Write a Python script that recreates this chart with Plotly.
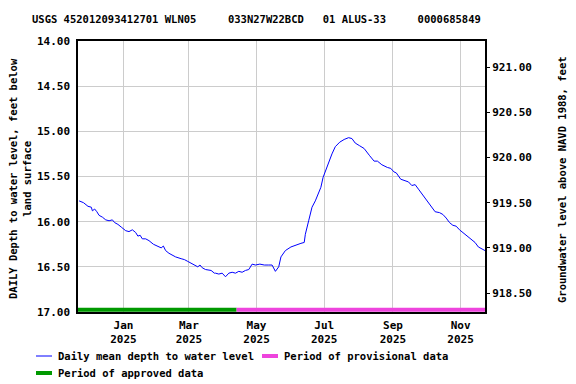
import plotly.graph_objects as go

# ---- data ----
dates = [
    "2024-11-22", "2024-11-26", "2024-11-30", "2024-12-03", "2024-12-04", "2024-12-06",
    "2024-12-08", "2024-12-10", "2024-12-13", "2024-12-16", "2024-12-19", "2024-12-22",
    "2024-12-24", "2024-12-27", "2024-12-30", "2025-01-03", "2025-01-06", "2025-01-09",
    "2025-01-12", "2025-01-14", "2025-01-16", "2025-01-18", "2025-01-21", "2025-01-24",
    "2025-01-28", "2025-02-01", "2025-02-04", "2025-02-06", "2025-02-08", "2025-02-11",
    "2025-02-14", "2025-02-17", "2025-02-22", "2025-02-25", "2025-02-28", "2025-03-03",
    "2025-03-06", "2025-03-09", "2025-03-11", "2025-03-13", "2025-03-16", "2025-03-21",
    "2025-03-24", "2025-03-25", "2025-03-28", "2025-03-31", "2025-04-03", "2025-04-06",
    "2025-04-09", "2025-04-12", "2025-04-15", "2025-04-18", "2025-04-21", "2025-04-24",
    "2025-04-27", "2025-04-30", "2025-05-04", "2025-05-08", "2025-05-12", "2025-05-15",
    "2025-05-18", "2025-05-21", "2025-05-23", "2025-05-27", "2025-06-01", "2025-06-05",
    "2025-06-10", "2025-06-13", "2025-06-14", "2025-06-17", "2025-06-20", "2025-06-23",
    "2025-06-26", "2025-06-28", "2025-06-30", "2025-07-03", "2025-07-05", "2025-07-08",
    "2025-07-11", "2025-07-15", "2025-07-19", "2025-07-23", "2025-07-26", "2025-07-29",
    "2025-08-02", "2025-08-06", "2025-08-11", "2025-08-15", "2025-08-18", "2025-08-22",
    "2025-08-27", "2025-08-30", "2025-09-02", "2025-09-04", "2025-09-08", "2025-09-12",
    "2025-09-15", "2025-09-18", "2025-09-21", "2025-09-24", "2025-09-27", "2025-09-30",
    "2025-10-03", "2025-10-06", "2025-10-09", "2025-10-13", "2025-10-16", "2025-10-19",
    "2025-10-22", "2025-10-25", "2025-10-28", "2025-10-31", "2025-11-03", "2025-11-05",
    "2025-11-08", "2025-11-11", "2025-11-14", "2025-11-17", "2025-11-20", "2025-11-23",
]
depth = [
    15.77, 15.79, 15.83, 15.84, 15.88, 15.86,
    15.89, 15.93, 15.95, 15.98, 15.99, 15.98,
    16.01, 16.03, 16.06, 16.10, 16.11, 16.09,
    16.12, 16.16, 16.15, 16.19, 16.19, 16.21,
    16.25, 16.27, 16.29, 16.27, 16.32, 16.35,
    16.37, 16.39, 16.41, 16.42, 16.44, 16.46,
    16.48, 16.50, 16.48, 16.51, 16.53, 16.54,
    16.57, 16.57, 16.58, 16.57, 16.61, 16.57,
    16.56, 16.57, 16.55, 16.56, 16.54, 16.53,
    16.47, 16.48, 16.47, 16.48, 16.48, 16.48,
    16.55, 16.50, 16.39, 16.32, 16.28, 16.26,
    16.24, 16.23, 16.14, 15.99, 15.84, 15.77,
    15.69, 15.62, 15.51, 15.41, 15.36, 15.25,
    15.17, 15.12, 15.09, 15.07, 15.08, 15.13,
    15.16, 15.19, 15.27, 15.33, 15.33, 15.37,
    15.40, 15.41, 15.45, 15.46, 15.53, 15.55,
    15.56, 15.60, 15.59, 15.64, 15.69, 15.74,
    15.79, 15.84, 15.89, 15.90, 15.92, 15.96,
    16.01, 16.04, 16.05, 16.09, 16.12, 16.14,
    16.16, 16.19, 16.23, 16.28, 16.30, 16.32,
]
land_surface = 935.29
approved_period = ["2024-11-21", "2025-04-13"]
provisional_period = ["2025-04-13", "2025-11-23"]
period_bar_depth = 16.974
x_range = ["2024-11-21", "2025-11-23"]
tick_dates = ["2025-01-01", "2025-03-01", "2025-05-01", "2025-07-01", "2025-09-01", "2025-11-01"]
tick_labels = ["Jan<br>2025", "Mar<br>2025", "May<br>2025", "Jul<br>2025", "Sep<br>2025", "Nov<br>2025"]
depth_ticks = [14.0, 14.5, 15.0, 15.5, 16.0, 16.5, 17.0]
elev_ticks = [918.5, 919.0, 919.5, 920.0, 920.5, 921.0]

FONT = "DejaVu Sans Mono"
FS = 10.5
NB = "\u00a0"

# page offset of the figure inside the browser window (default body margin)
OFF = 8
# plot area in window pixels
L, R, T, B = 78, 485, 41, 312
W, H = R - L, B - T


def px(x):
    return (x - L) / W


def py(y):
    return (B - y) / H


fig = go.Figure()
fig.add_trace(go.Scatter(x=dates, y=depth, mode="lines",
                         line=dict(color="#0000ff", width=1), showlegend=False))
fig.add_trace(go.Scatter(x=approved_period, y=[period_bar_depth] * 2, mode="lines",
                         line=dict(color="#009900", width=4), showlegend=False))
fig.add_trace(go.Scatter(x=provisional_period, y=[period_bar_depth] * 2, mode="lines",
                         line=dict(color="#ee44dd", width=4), showlegend=False))
fig.add_trace(go.Scatter(x=dates, y=[land_surface - d for d in depth], mode="lines",
                         line=dict(color="rgba(0,0,0,0)", width=0), yaxis="y2",
                         showlegend=False, hoverinfo="skip"))

fig.update_layout(
    width=576, height=384,
    margin=dict(l=L - OFF, r=576 - R + OFF, t=T - OFF, b=384 - B + OFF, pad=0),
    paper_bgcolor="white", plot_bgcolor="white",
    font=dict(family=FONT, size=FS, color="black", weight="bold"),
    showlegend=False,
    xaxis=dict(range=x_range, type="date", tickvals=tick_dates, ticktext=tick_labels,
               showgrid=True, gridcolor="#cccccc", gridwidth=1, automargin=False,
               showline=True, linecolor="black", linewidth=1.5, mirror=True,
               ticks="", ticklabelstandoff=2,
               tickfont=dict(family=FONT, size=FS + 0.5), zeroline=False),
    yaxis=dict(range=[17.0, 14.0], tickvals=depth_ticks,
               ticktext=[f"{v:.2f}" for v in depth_ticks],
               showgrid=True, gridcolor="#cccccc", gridwidth=1, automargin=False,
               showline=True, linecolor="black", linewidth=1.5, mirror=True,
               ticks="outside", ticklen=4, tickcolor="rgba(0,0,0,0)",
               tickfont=dict(family=FONT, size=FS + 0.5), zeroline=False),
    yaxis2=dict(range=[land_surface - 17.0, land_surface - 14.0], overlaying="y", side="right",
                tickvals=elev_ticks, ticktext=[f"{v:.2f}" for v in elev_ticks],
                showgrid=False, showline=False, zeroline=False, automargin=False,
                ticks="outside", ticklen=4, tickcolor="black",
                tickfont=dict(family=FONT, size=FS + 0.5)),
)

title = ("USGS 452012093412701 WLN05" + NB * 5 + "033N27W22BCD" + NB * 3 +
         "01 ALUS-33" + NB * 5 + "0000685849")
fig.add_annotation(x=px(256), y=py(19), xref="paper", yref="paper", text=title,
                   showarrow=False, xanchor="center", yanchor="middle",
                   font=dict(family=FONT, size=FS))

# axis titles (window pixel positions)
fig.add_annotation(x=px(20), y=py(179), xref="paper", yref="paper",
                   text="DAILY Depth to water level, feet below<br>land surface",
                   textangle=-90, showarrow=False, xanchor="center", yanchor="middle",
                   font=dict(family=FONT, size=FS))
fig.add_annotation(x=px(562), y=py(180), xref="paper", yref="paper",
                   text="Groundwater level above NAVD 1988, feet",
                   textangle=-90, showarrow=False, xanchor="center", yanchor="middle",
                   font=dict(family=FONT, size=FS))

# manual legend (window pixel positions)
legend_items = [
    (36, 356, "#0000ff", 1, "Daily mean depth to water level"),
    (262, 356, "#ee44dd", 4, "Period of provisional data"),
    (36, 373, "#009900", 4, "Period of approved data"),
]
for x0, y0, col, w, label in legend_items:
    fig.add_shape(type="line", xref="paper", yref="paper",
                  x0=px(x0), x1=px(x0 + 16), y0=py(y0), y1=py(y0),
                  line=dict(color=col, width=w))
    fig.add_annotation(x=px(x0 + 20), y=py(y0), xref="paper", yref="paper", text=label,
                       showarrow=False, xanchor="left", yanchor="middle",
                       font=dict(family=FONT, size=FS))

fig.write_html("out.html")
